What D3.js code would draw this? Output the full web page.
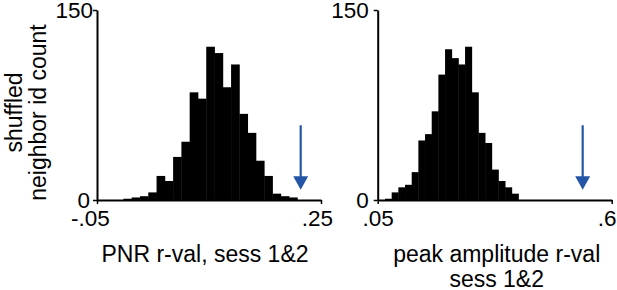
<!DOCTYPE html>
<html>
<head>
<meta charset="utf-8">
<script src="https://cdn.jsdelivr.net/npm/d3@7"></script>
<style>
  html, body { margin: 0; padding: 0; background: #fff; }
  svg { display: block; }
  text { font-family: "Liberation Sans", Arial, Helvetica, sans-serif; fill: #000; }
</style>
</head>
<body>
<svg id="chart" width="617" height="290"></svg>
<script>
// ---- data ----
const yTicks = [0, 150];
const yTickLabels = ["0", "150"];
const yTitle = ["shuffled", "neighbor id count"];

// Left panel: PNR r-val
const pnrXTicks = [-0.05, 0.25];
const pnrXTickLabels = ["-.05", ".25"];
const pnrBinStart = -0.0146;
const pnrBinWidth = 0.01109;
const pnrCounts = [1, 2, 3, 6, 19, 15, 34, 46, 85, 80, 121, 116, 89, 107, 68, 53, 31, 19, 5, 3, 2];
const pnrActual = 0.2228;
const pnrTitle = ["PNR r-val, sess 1&2"];

// Right panel: peak amplitude r-val
const ampXTicks = [0.05, 0.6];
const ampXTickLabels = [".05", ".6"];
const ampBinStart = 0.0672;
const ampBinWidth = 0.01568;
const ampCounts = [1, 6, 10, 12, 22, 47, 52, 70, 99, 119, 112, 107, 121, 85, 53, 45, 24, 15, 10, 5];
const ampActual = 0.5318;
const ampTitle = ["peak amplitude r-val", "sess 1&2"];

// arrow extent in count units (top, tip)
const arrowCounts = [59, 8];

// ---- drawing ----
const svg = d3.select("#chart");
const FS = 23;      // titles
const TFS = 22.5;   // tick labels
const arrowColor = "#2356a6";
const yTop = 10, yBottom = 200;

function panel(cfg) {
  const x = d3.scaleLinear().domain(cfg.domain).range(cfg.range);
  const y = d3.scaleLinear().domain([0, 150]).range([yBottom, yTop]);
  const g = svg.append("g");

  // bars
  const bw = x(cfg.binStart + cfg.binWidth) - x(cfg.binStart);
  g.append("g").selectAll("rect")
    .data(cfg.counts)
    .join("rect")
    .attr("x", (d, i) => x(cfg.binStart + i * cfg.binWidth))
    .attr("width", bw + 0.4)
    .attr("y", d => y(d))
    .attr("height", d => y(0) - y(d))
    .attr("fill", "#000");

  // x axis
  const xa = g.append("g").attr("transform", `translate(0,${yBottom})`)
    .call(d3.axisBottom(x).tickValues(cfg.xTicks)
      .tickFormat((d, i) => cfg.xTickLabels[i]).tickSize(4).tickSizeOuter(0));
  xa.select(".domain").attr("stroke", "#000").attr("stroke-width", 2);
  xa.selectAll(".tick line").attr("stroke", "#000").attr("stroke-width", 1.5);
  xa.selectAll(".tick text").attr("font-size", TFS).attr("y", 10).attr("dy", "0.71em")
    .attr("dx", (d, i) => cfg.xLabelDx[i]).attr("fill", "#000")
    .style("font-family", '"Liberation Sans", Arial, sans-serif');

  // y axis
  const ya = g.append("g").attr("transform", `translate(${cfg.range[0]},0)`)
    .call(d3.axisLeft(y).tickValues(yTicks)
      .tickFormat((d, i) => yTickLabels[i]).tickSize(4).tickSizeOuter(0));
  ya.select(".domain").attr("stroke", "#000").attr("stroke-width", 2);
  ya.selectAll(".tick line").attr("stroke", "#000").attr("stroke-width", 1.5);
  ya.selectAll(".tick text").attr("font-size", TFS).attr("x", (d, i) => -cfg.yLabelGap[i]).attr("dy", "0.35em")
    .attr("fill", "#000")
    .style("font-family", '"Liberation Sans", Arial, sans-serif');

  // arrow
  const ax = x(cfg.actual);
  const yTopA = y(arrowCounts[0]);
  const yTip = y(arrowCounts[1]);
  const headH = 13.5, headW = 15;
  g.append("line")
    .attr("x1", ax).attr("x2", ax)
    .attr("y1", yTopA).attr("y2", yTip - headH + 1)
    .attr("stroke", arrowColor).attr("stroke-width", 2.2);
  g.append("path")
    .attr("d", `M${ax - headW / 2},${yTip - headH} L${ax + headW / 2},${yTip - headH} L${ax},${yTip} Z`)
    .attr("fill", arrowColor);

  // x title
  const cx = (cfg.range[0] + cfg.range[1]) / 2 + cfg.titleDx;
  g.append("text")
    .attr("text-anchor", "middle")
    .attr("font-size", FS)
    .selectAll("tspan")
    .data(cfg.title)
    .join("tspan")
    .attr("x", cx)
    .attr("y", (d, i) => 262 + i * 25)
    .text(d => d);
}

panel({
  domain: [-0.05, 0.25], range: [97, 321],
  binStart: pnrBinStart, binWidth: pnrBinWidth, counts: pnrCounts,
  xTicks: pnrXTicks, xTickLabels: pnrXTickLabels, xLabelDx: [-7, -4],
  actual: pnrActual, title: pnrTitle, titleDx: -4, yLabelGap: [7, 4]
});
panel({
  domain: [0.05, 0.6], range: [377.7, 611.7],
  binStart: ampBinStart, binWidth: ampBinWidth, counts: ampCounts,
  xTicks: ampXTicks, xTickLabels: ampXTickLabels, xLabelDx: [0, -5],
  actual: ampActual, title: ampTitle, titleDx: 2, yLabelGap: [9, 9]
});

// y title (rotated, two lines)
const yt = svg.append("text")
  .attr("transform", "translate(0,112.5) rotate(-90)")
  .attr("text-anchor", "middle")
  .attr("font-size", FS);
yt.selectAll("tspan").data(yTitle).join("tspan")
  .attr("x", 0)
  .attr("y", (d, i) => 22 + i * 23.5)
  .text(d => d);
</script>
</body>
</html>
